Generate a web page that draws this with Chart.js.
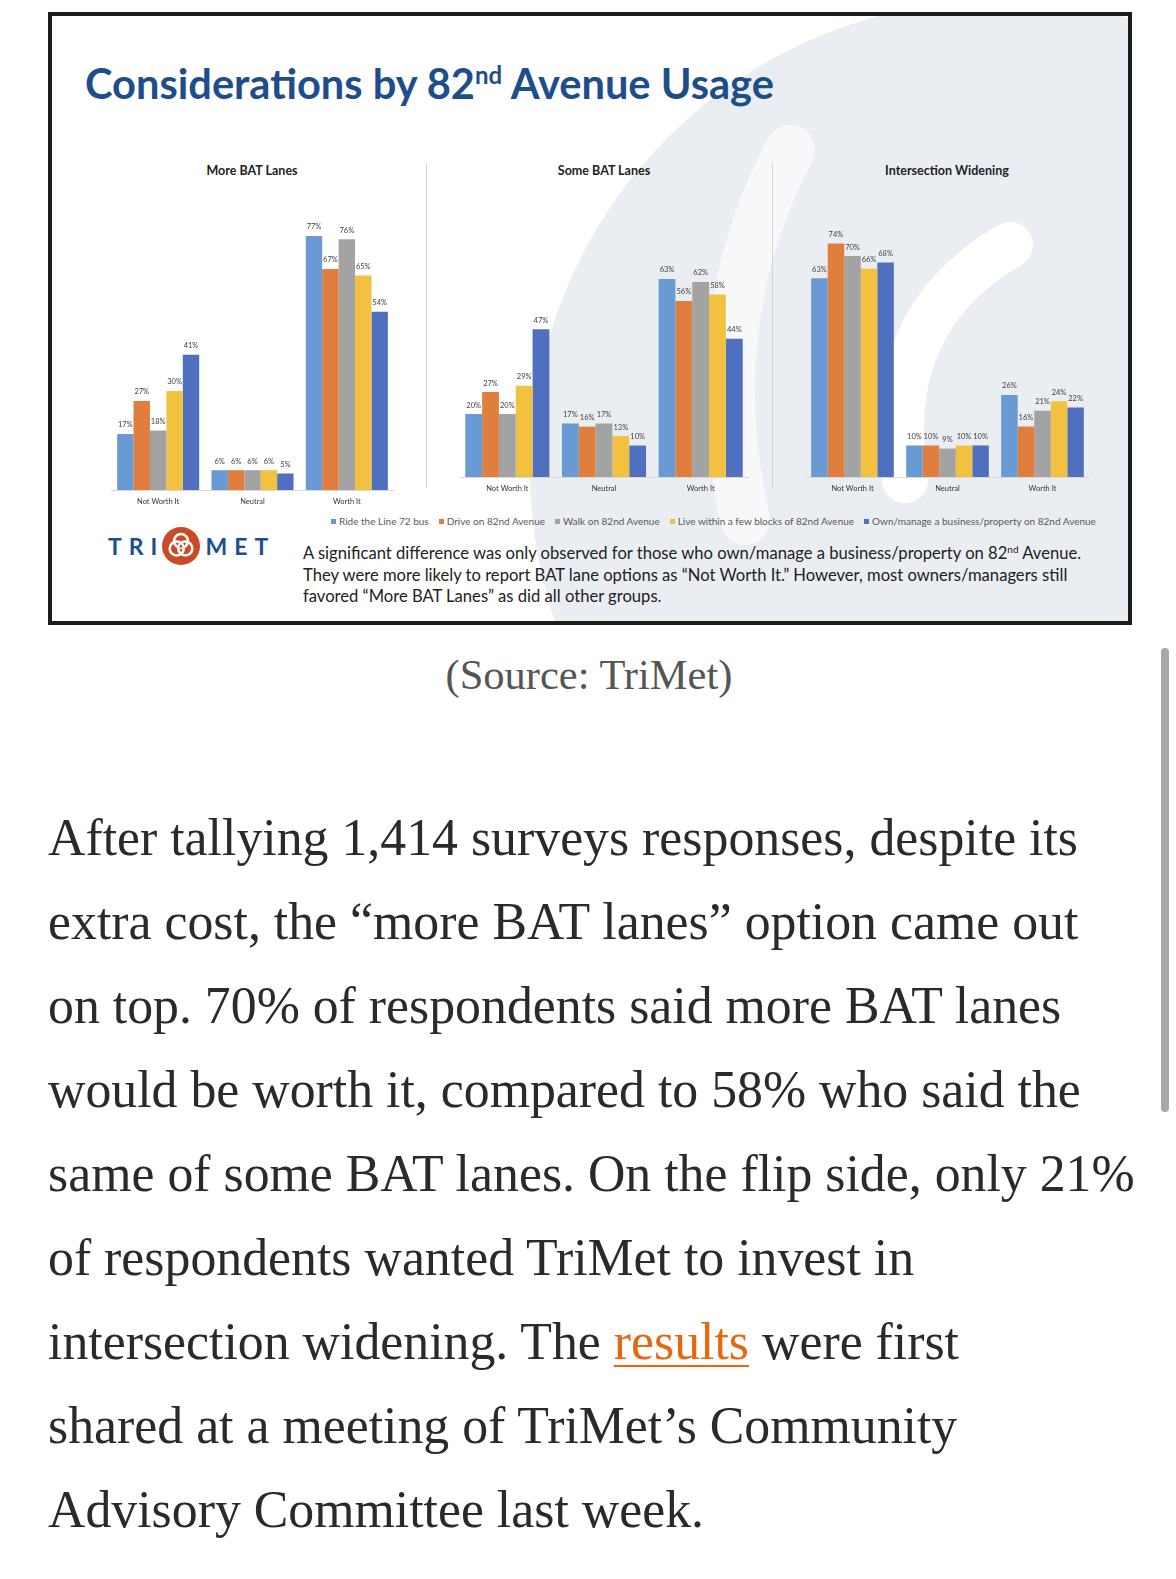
<!DOCTYPE html>
<html>
<head>
<meta charset="utf-8">
<script src="https://cdn.jsdelivr.net/npm/chart.js@4.4.0/dist/chart.umd.min.js"></script>
<style>
  html, body { margin: 0; padding: 0; background: #fff; }
  body { width: 1176px; height: 1579px; position: relative; overflow: hidden; font-family: Lato, sans-serif; }
  .frame { position: absolute; left: 48px; top: 12px; width: 1076px; height: 605px; border: 4px solid #1c1c1c; background: #fff; overflow: hidden; }
  .frame svg { position: absolute; left: 0; top: 0; }
  .abs { position: absolute; }
  .slide-title { left: 85px; top: 57px; font: 700 41.6px Lato, sans-serif; color: #1e4d8c; white-space: nowrap; line-height: 52px; }
  .slide-title sup { font-size: 24px; vertical-align: 15px; line-height: 0; }
  .chart-title { font: 700 12.5px Lato, sans-serif; color: #222; white-space: nowrap; transform: translateX(-50%); top: 163px; }
  .sep { width: 1px; background: #d4d4d4; top: 163px; height: 325px; }
  .legend { left: 331px; top: 515px; display: flex; gap: 10px; font: 10px Lato, sans-serif; color: #595959; white-space: nowrap; }
  .legend span.sw { display: inline-block; width: 5px; height: 5px; margin-right: 3px; vertical-align: 1px; }
  .logo { left: 108px; top: 526px; height: 40px; display: flex; align-items: center; font: 700 23px Lato, sans-serif; color: #1f4e8c; letter-spacing: 7px; }
  .caption { left: 303px; top: 543px; font: 16.6px Lato, sans-serif; color: #222; line-height: 21.5px; white-space: nowrap; }
  .caption sup { font-size: 10px; vertical-align: 6px; line-height: 0; }
  .source { left: 0; width: 1178px; text-align: center; top: 650px; font: 42.5px "Liberation Serif", serif; color: #555; line-height: 50px; }
  .article { left: 48px; top: 796px; font: 51.8px "Liberation Serif", serif; color: #2a2a2a; line-height: 84px; white-space: nowrap; }
  .article a { color: #e8660d; text-decoration: underline; text-decoration-thickness: 2px; text-underline-offset: 6px; }
  .scroll { left: 1161px; top: 648px; width: 8px; height: 464px; border-radius: 4px; background: #a8a8a8; }
</style>
</head>
<body>

<div class="frame">
  <!-- faint TriMet swirl watermark behind the slide, drawn in page coordinates -->
  <svg width="1076" height="605" viewBox="52 16 1076 605">
    <circle cx="1000" cy="470" r="470" fill="#eaedf2"/>
    <path d="M 1010 245 Q 880 320 905 480" stroke="#fff" stroke-width="46" fill="none" stroke-linecap="round"/>
    <path d="M 790 150 Q 700 320 745 520" stroke="#f7f8fa" stroke-width="50" fill="none" stroke-linecap="round"/>
  </svg>
</div>

<div class="abs slide-title">Considerations by 82<sup>nd</sup> Avenue Usage</div>

<div class="abs chart-title" style="left:252px">More BAT Lanes</div>
<div class="abs chart-title" style="left:604px">Some BAT Lanes</div>
<div class="abs chart-title" style="left:947px">Intersection Widening</div>

<div class="abs sep" style="left:426px"></div>
<div class="abs sep" style="left:772px"></div>

<canvas id="c1" class="abs" width="283" height="317" style="left:111px; top:193px"></canvas>
<canvas id="c2" class="abs" width="290" height="303" style="left:459px; top:194px"></canvas>
<canvas id="c3" class="abs" width="285" height="304" style="left:805px; top:193px"></canvas>

<div class="abs legend" id="legend"></div>

<div class="abs logo">
  <span>TRI</span>
  <svg width="40" height="40" viewBox="-20 -20 40 40" style="margin:0 4px 0 -3px">
    <circle r="19" fill="#c94a27"/>
    <g fill="none" stroke="#fff" stroke-width="2.6">
      <circle cx="0" cy="-5" r="7"/>
      <circle cx="4.3" cy="2.5" r="7"/>
      <circle cx="-4.3" cy="2.5" r="7"/>
    </g>
    <path d="M 0 -2 L 2 1.5 L -2 1.5 Z" fill="#c94a27"/>
  </svg>
  <span>MET</span>
</div>

<div class="abs caption">
  A significant difference was only observed for those who own/manage a business/property on 82<sup>nd</sup> Avenue.<br>
  They were more likely to report BAT lane options as “Not Worth It.” However, most owners/managers still<br>
  favored “More BAT Lanes” as did all other groups.
</div>

<div class="abs source">(Source: TriMet)</div>

<div class="abs article">
  After tallying 1,414 surveys responses, despite its<br>
  extra cost, the “more BAT lanes” option came out<br>
  on top. 70% of respondents said more BAT lanes<br>
  would be worth it, compared to 58% who said the<br>
  same of some BAT lanes. On the flip side, only 21%<br>
  of respondents wanted TriMet to invest in<br>
  intersection widening. The <a>results</a> were first<br>
  shared at a meeting of TriMet’s Community<br>
  Advisory Committee last week.
</div>

<div class="abs scroll"></div>

<script>
// categories on the x axis of every panel
const categories = ['Not Worth It', 'Neutral', 'Worth It'];

// respondent groups (one bar per group in each category)
const groups = [
  'Ride the Line 72 bus',
  'Drive on 82nd Avenue',
  'Walk on 82nd Avenue',
  'Live within a few blocks of 82nd Avenue',
  'Own/manage a business/property on 82nd Avenue'
];
const groupColors = ['#6a9ad3', '#e07f3d', '#a3a3a3', '#f3c140', '#4f70bf'];

// percentages, one row per group: [Not Worth It, Neutral, Worth It]
const moreBatLanes = [
  [17, 6, 77],
  [27, 6, 67],
  [18, 6, 76],
  [30, 6, 65],
  [41, 5, 54]
];
const someBatLanes = [
  [20, 17, 63],
  [27, 16, 56],
  [20, 17, 62],
  [29, 13, 58],
  [47, 10, 44]
];
const intersectionWidening = [
  [63, 10, 26],
  [74, 10, 16],
  [70, 9, 21],
  [66, 10, 24],
  [68, 10, 22]
];

// percent labels above each bar
const barLabels = {
  id: 'barLabels',
  afterDatasetsDraw(chart) {
    const ctx = chart.ctx;
    ctx.save();
    ctx.font = '7.5px Lato';
    ctx.fillStyle = '#404040';
    ctx.textAlign = 'center';
    ctx.textBaseline = 'middle';
    chart.data.datasets.forEach((ds, i) => {
      chart.getDatasetMeta(i).data.forEach((bar, j) => {
        ctx.fillText(ds.data[j] + '%', bar.x, bar.y - 9);
      });
    });
    ctx.restore();
  }
};

function drawPanel(id, rows) {
  return new Chart(document.getElementById(id), {
    type: 'bar',
    data: {
      labels: categories,
      datasets: rows.map((vals, i) => ({
        label: groups[i],
        data: vals,
        backgroundColor: groupColors[i],
        borderWidth: 0,
        barPercentage: 1.0,
        categoryPercentage: 0.87
      }))
    },
    options: {
      responsive: false,
      animation: false,
      layout: { padding: 0 },
      plugins: { legend: { display: false }, tooltip: { enabled: false } },
      scales: {
        x: {
          grid: { display: false, drawTicks: false },
          border: { display: true, color: '#d9d9d9' },
          ticks: { color: '#333', padding: 7, font: { family: 'Lato', size: 7.5 } },
          afterFit: (scale) => { scale.height = 20; }
        },
        y: { display: false, min: 0, max: 90 }
      }
    },
    plugins: [barLabels]
  });
}

drawPanel('c1', moreBatLanes);
drawPanel('c2', someBatLanes);
drawPanel('c3', intersectionWidening);

// legend row under the panels
const legendEl = document.getElementById('legend');
groups.forEach((g, i) => {
  const item = document.createElement('div');
  item.innerHTML = '<span class="sw" style="background:' + groupColors[i] + '"></span>' + g;
  legendEl.appendChild(item);
});
</script>
</body>
</html>
